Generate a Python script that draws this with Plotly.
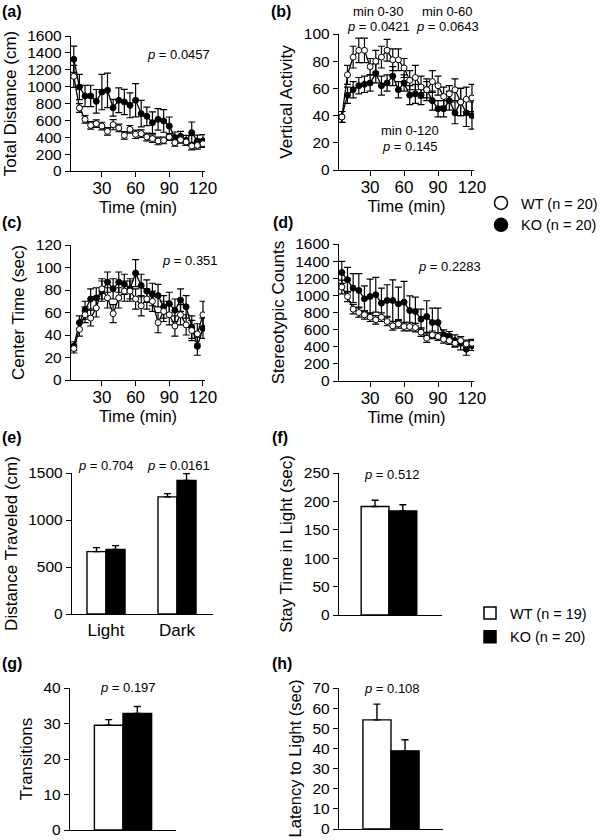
import plotly.graph_objects as go

# ---------------- data ----------------
time = [5, 10, 15, 20, 25, 30, 35, 40, 45, 50, 55, 60,
        65, 70, 75, 80, 85, 90, 95, 100, 105, 110, 115, 120]

# (a) Total distance (cm)
dist_wt = [1122, 747, 612, 541, 561, 533, 470, 549, 510, 423, 494, 435,
           443, 403, 383, 356, 363, 403, 336, 371, 344, 296, 304, 324]
dist_wt_err = [130, 51, 45, 45, 45, 45, 45, 60, 45, 45, 45, 50,
               45, 45, 45, 45, 40, 40, 40, 40, 40, 45, 45, 45]
dist_ko = [1324, 996, 889, 890, 826, 936, 956, 750, 838, 818, 778, 838,
           680, 648, 573, 612, 593, 533, 395, 411, 363, 454, 356, 356]
dist_ko_err = [156, 150, 126, 126, 140, 210, 204, 100, 146, 150, 147, 197,
               158, 110, 127, 127, 134, 107, 67, 59, 60, 127, 70, 75]

# (b) Vertical activity
vert_wt = [39, 70, 83, 88, 88, 76, 80, 83, 88, 81, 81, 75,
           66, 68, 61, 59, 65, 62, 54, 56, 59, 50, 52, 53]
vert_wt_err = [4, 7, 8, 9, 9, 6, 8, 8, 8, 8, 8, 7,
               7, 9, 8, 8, 8, 7, 7, 6, 8, 10, 9, 10]
vert_ko = [39, 55, 59, 62, 63, 64, 71, 62, 64, 69, 59, 64,
           55, 56, 55, 59, 51, 45, 45, 51, 42, 50, 42, 40]
vert_ko_err = [4, 6, 6, 6, 6, 6, 7, 7, 6, 7, 6, 6,
               7, 7, 7, 6, 7, 6, 6, 7, 8, 10, 10, 10]

# (c) Center time (sec)
cent_wt = [28, 45, 58, 55, 64, 81, 73, 59, 73, 79, 79, 72,
           66, 72, 70, 51, 61, 58, 48, 58, 49, 44, 41, 58]
cent_wt_err = [4, 6, 7, 7, 8, 9, 9, 8, 9, 9, 9, 9,
               9, 9, 9, 9, 9, 9, 9, 9, 9, 9, 9, 12]
cent_ko = [30, 51, 62, 72, 73, 79, 87, 81, 87, 85, 81, 95,
           84, 79, 76, 75, 65, 68, 62, 71, 65, 47, 30, 46]
cent_ko_err = [4, 6, 8, 9, 9, 9, 9, 9, 9, 9, 9, 12,
               10, 10, 10, 10, 10, 10, 10, 10, 10, 10, 8, 9]

# (d) Stereotypic counts
ster_wt = [1097, 987, 839, 800, 773, 745, 714, 745, 695, 644, 667, 636,
           636, 624, 570, 500, 539, 519, 488, 472, 441, 472, 433, 441]
ster_wt_err = [80, 60, 55, 55, 50, 50, 50, 50, 50, 50, 50, 50,
               50, 50, 50, 50, 45, 45, 45, 45, 45, 45, 45, 45]
ster_ko = [1268, 1182, 1085, 1058, 960, 987, 1007, 909, 940, 940, 901, 921,
           823, 812, 722, 753, 683, 683, 539, 527, 472, 441, 371, 414]
ster_ko_err = [129, 145, 168, 195, 152, 203, 203, 176, 184, 242, 196, 242,
               172, 168, 117, 184, 168, 168, 58, 51, 67, 78, 70, 58]

# (e) Distance traveled, light/dark box
ld_cats = ["Light", "Dark"]
ld_wt = [664, 1246]
ld_wt_err = [42, 35]
ld_ko = [688, 1422]
ld_ko_err = [39, 71]

# (f) Stay time in light (sec)
stay_wt, stay_wt_err = [191], [11]
stay_ko, stay_ko_err = [183], [11]
# (g) Transitions
trans_wt, trans_wt_err = [29.5], [1.6]
trans_ko, trans_ko_err = [32.8], [2.0]
# (h) Latency to light (sec)
lat_wt, lat_wt_err = [54.2], [7.8]
lat_ko, lat_ko_err = [38.8], [5.5]

# ---------------- layout helpers ----------------
W, H = 600, 840
FONT = "Liberation Sans, Arial, Helvetica, sans-serif"


def fx(p):
    return p / W


def fy(p):
    return 1 - p / H


fig = go.Figure()

axis_common = dict(showline=True, linecolor="black", linewidth=1.4,
                   ticks="outside", ticklen=5, tickwidth=1.4, tickcolor="black",
                   showgrid=False, zeroline=False, mirror=False, automargin=False,
                   tickfont=dict(family=FONT, size=15.5, color="black"))


def add_axes(i, xdom_px, ydom_px, xrange, yrange, ytickvals, ytitle,
             xtickvals=None, xtitle=None, xticks=True, xcat=None, xticklabels=True,
             ytitle_size=17):
    xs = "xaxis" if i == 1 else f"xaxis{i}"
    ys = "yaxis" if i == 1 else f"yaxis{i}"
    xa = dict(axis_common)
    xa.update(domain=[fx(xdom_px[0]), fx(xdom_px[1])], range=xrange,
              anchor="y" if i == 1 else f"y{i}",
              tickfont=dict(family=FONT, size=17, color="black"))
    if xtickvals is not None:
        xa.update(tickmode="array", tickvals=xtickvals)
    if not xticks:
        xa.update(ticks="", showticklabels=xticklabels)
    if xcat is not None:
        xa.update(type="category")
    if xtitle:
        xa.update(title=dict(text=xtitle, font=dict(family=FONT, size=16.5, color="black"),
                             standoff=0))
    ya = dict(axis_common)
    ya.update(domain=[fy(ydom_px[1]), fy(ydom_px[0])], range=yrange,
              anchor="x" if i == 1 else f"x{i}",
              tickmode="array", tickvals=ytickvals)
    ya.update(title=dict(text=ytitle, font=dict(family=FONT, size=ytitle_size, color="black"),
                         standoff=6))
    fig.update_layout({xs: xa, ys: ya})


def line_traces(i, x, wt, wt_err, ko, ko_err):
    xa = "x" if i == 1 else f"x{i}"
    ya = "y" if i == 1 else f"y{i}"
    for vals, err, fill in ((ko, ko_err, "black"), (wt, wt_err, "white")):
        fig.add_trace(go.Scatter(
            x=x, y=vals, xaxis=xa, yaxis=ya, mode="lines+markers",
            line=dict(color="black", width=1.3),
            marker=dict(symbol="circle", size=6, color=fill,
                        line=dict(color="black", width=1)),
            error_y=dict(type="data", array=err, visible=True, color="black",
                         thickness=1.2, width=3.5),
            showlegend=False, hoverinfo="skip"))


def bar_traces(i, x, wt, wt_err, ko, ko_err, width=0.27):
    xa = "x" if i == 1 else f"x{i}"
    ya = "y" if i == 1 else f"y{i}"
    for vals, err, fill, off in ((wt, wt_err, "white", -width), (ko, ko_err, "black", 0)):
        fig.add_trace(go.Bar(
            x=x, y=vals, xaxis=xa, yaxis=ya, width=width, offset=off,
            marker=dict(color=fill, line=dict(color="black", width=1.4)),
            error_y=dict(type="data", symmetric=False, array=err,
                         arrayminus=[0] * len(err), visible=True, color="black",
                         thickness=1.4, width=3.5),
            showlegend=False, hoverinfo="skip"))


time_range = [2.5, 121.8]
time_ticks = [30, 60, 90, 120]

# (a)
add_axes(1, (71, 205), (36, 171), time_range, [0, 1600], list(range(0, 1601, 200)),
         "Total Distance (cm)", time_ticks, "Time (min)")
line_traces(1, time, dist_wt, dist_wt_err, dist_ko, dist_ko_err)
# (b)
add_axes(2, (339, 474), (34, 170), time_range, [0, 100], list(range(0, 101, 20)),
         "Vertical Activity", time_ticks, "Time (min)")
line_traces(2, time, vert_wt, vert_wt_err, vert_ko, vert_ko_err)
# (c)
add_axes(3, (71, 205), (245, 380), time_range, [0, 120], list(range(0, 121, 20)),
         "Center Time (sec)", time_ticks, "Time (min)")
line_traces(3, time, cent_wt, cent_wt_err, cent_ko, cent_ko_err)
# (d)
add_axes(4, (339, 474), (244, 381), time_range, [0, 1600], list(range(0, 1601, 200)),
         "Stereotypic Counts", time_ticks, "Time (min)")
line_traces(4, time, ster_wt, ster_wt_err, ster_ko, ster_ko_err)
# (e)
add_axes(5, (72, 213), (473, 614), [-0.479, 1.507], [0, 1500], [0, 500, 1000, 1500],
         "Distance Traveled (cm)", xticks=False, xcat=True)
bar_traces(5, ld_cats, ld_wt, ld_wt_err, ld_ko, ld_ko_err, width=0.268)
# (f)
add_axes(6, (339, 442), (473, 615), [-0.485, 0.515], [0, 250], list(range(0, 251, 50)),
         "Stay Time in Light (sec)", xticks=False, xticklabels=False)
bar_traces(6, [0], stay_wt, stay_wt_err, stay_ko, stay_ko_err)
# (g)
add_axes(7, (70, 176), (688, 830), [-0.5, 0.5], [0, 40], list(range(0, 41, 10)),
         "Transitions", xticks=False, xticklabels=False)
bar_traces(7, [0], trans_wt, trans_wt_err, trans_ko, trans_ko_err)
# (h)
add_axes(8, (339, 443), (688, 829), [-0.5, 0.5], [0, 70], list(range(0, 71, 10)),
         "Latency to Light (sec)", xticks=False, xticklabels=False, ytitle_size=16.5)
bar_traces(8, [0], lat_wt, lat_wt_err, lat_ko, lat_ko_err)

# pull the time-axis tick labels slightly closer to the axis line
for k in ("xaxis", "xaxis2", "xaxis3", "xaxis4"):
    try:
        fig.layout[k].ticklabelstandoff = -4
    except Exception:
        pass

# legend-only entries
fig.add_trace(go.Scatter(x=[None], y=[None], mode="markers", name="WT (n = 20)",
                         marker=dict(symbol="circle", size=13, color="white",
                                     line=dict(color="black", width=1.5)),
                         legend="legend", showlegend=True))
fig.add_trace(go.Scatter(x=[None], y=[None], mode="markers", name="KO (n = 20)",
                         marker=dict(symbol="circle", size=13, color="black",
                                     line=dict(color="black", width=1.5)),
                         legend="legend", showlegend=True))
fig.add_trace(go.Bar(x=[None], y=[None], name="WT (n = 19)", legendgroup="wt",
                     marker=dict(color="white", line=dict(color="black", width=1.5)),
                     legend="legend2", showlegend=True))
fig.add_trace(go.Bar(x=[None], y=[None], name="KO (n = 20)", legendgroup="ko",
                     marker=dict(color="black", line=dict(color="black", width=1.5)),
                     legend="legend2", showlegend=True))

# annotations
ann = []


def text(px, py, s, size=13):
    ann.append(dict(x=fx(px), y=fy(py), xref="paper", yref="paper", text=s,
                    showarrow=False, xanchor="center", yanchor="middle",
                    font=dict(family=FONT, size=size, color="black")))


for lab, (px, py) in zip("abcdefgh", [(12, 12), (281, 12), (12, 223), (283, 223),
                                      (12, 437), (280, 437), (12, 663), (282, 663)]):
    text(px, py, f"<b>({lab})</b>", size=16)

text(178, 55, "<i>p</i> = 0.0457")
text(378, 12, "min 0-30")
text(378, 27, "<i>p</i> = 0.0421")
text(447, 12, "min 0-60")
text(447, 27, "<i>p</i> = 0.0643")
text(410, 130, "min 0-120")
text(410, 146, "<i>p</i> = 0.145")
text(190, 260, "<i>p</i> = 0.351")
text(449, 266, "<i>p</i> = 0.2283")
text(106, 465, "<i>p</i> = 0.704")
text(178, 465, "<i>p</i> = 0.0161")
text(392, 474, "<i>p</i> = 0.512")
text(128, 687, "<i>p</i> = 0.197")
text(392, 688, "<i>p</i> = 0.108")

fig.update_layout(
    width=W, height=H, margin=dict(l=0, r=0, t=0, b=0, autoexpand=False),
    paper_bgcolor="white", plot_bgcolor="white",
    barmode="overlay", annotations=ann,
    font=dict(family=FONT, color="black"),
    legend=dict(x=fx(481), y=fy(187), xanchor="left", yanchor="top",
                font=dict(family=FONT, size=14.5, color="black"),
                itemsizing="trace", bgcolor="rgba(0,0,0,0)", tracegroupgap=0,
                itemwidth=30),
    legend2=dict(x=fx(470), y=fy(597), xanchor="left", yanchor="top",
                 font=dict(family=FONT, size=14.5, color="black"),
                 bgcolor="rgba(0,0,0,0)", tracegroupgap=2, itemwidth=30),
)

fig.write_html("out.html", config={"displayModeBar": False},
               post_script="document.body.style.margin='0px';")
